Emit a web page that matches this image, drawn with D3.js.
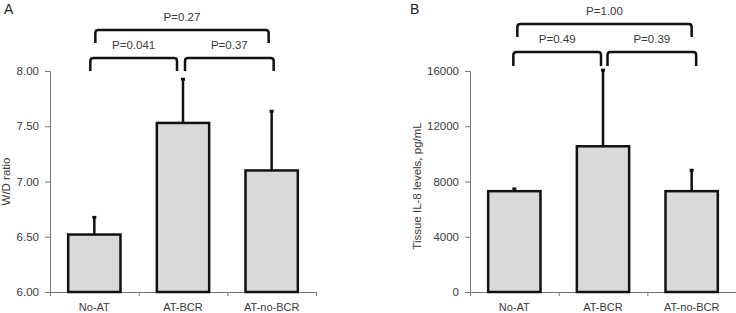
<!DOCTYPE html>
<html>
<head>
<meta charset="utf-8">
<script src="https://cdn.jsdelivr.net/npm/d3@7"></script>
<style>
  body { margin: 0; background: #fff; }
  svg { display: block; font-family: "Liberation Sans", Arial, Helvetica, sans-serif; }
</style>
</head>
<body>
<script>
const WIDTH = 736;
const HEIGHT = 313;

// data
var categories = ['No-AT', 'AT-BCR', 'AT-no-BCR'];
var wdMeans = [6.52, 7.53, 7.10];
var wdSd = [0.16, 0.40, 0.54];
var wdTicks = [6.00, 6.50, 7.00, 7.50, 8.00];
var il8Means = [7300, 10550, 7300];
var il8Sd = [200, 5550, 1550];
var il8Ticks = [0, 4000, 8000, 12000, 16000];
var pairs = [[0, 1], [1, 2], [0, 2]];
var wdPvalues = ['P=0.041', 'P=0.37', 'P=0.27'];
var il8Pvalues = ['P=0.49', 'P=0.39', 'P=1.00'];

var svg = d3.select('body').append('svg')
    .attr('width', WIDTH)
    .attr('height', HEIGHT);

var drawPanel = function (opt) {
    var g = svg.append('g');

    var yScale = d3.scaleLinear()
        .domain([opt.ticks[0], opt.ticks[opt.ticks.length - 1]])
        .range([292, 71]);
    var xBand = d3.scaleBand()
        .domain(categories)
        .range([opt.left, opt.left + 266])
        .paddingInner(0.41)
        .paddingOuter(0.205);
    var xEdge = d3.scaleLinear()
        .domain([0, categories.length])
        .range([opt.left, opt.left + 266]);

    // y axis
    var yAxis = g.append('g')
        .attr('transform', 'translate(' + opt.left + ',0)')
        .call(d3.axisLeft(yScale).tickValues(opt.ticks).tickFormat(opt.format).tickSize(5).tickPadding(6));
    yAxis.select('.domain').attr('stroke', '#777');
    yAxis.selectAll('.tick line').attr('stroke', '#777');
    yAxis.selectAll('.tick text')
        .attr('fill', '#3a3a3a')
        .style('font-size', '11.5px')
        .style('font-family', '"Liberation Sans", Arial, sans-serif');

    // x axis: ticks at band edges, labels at centers
    var xAxis = g.append('g')
        .attr('transform', 'translate(0,292)')
        .call(d3.axisBottom(xEdge).tickValues(d3.range(categories.length + 1)).tickFormat('').tickSize(4).tickSizeOuter(0));
    xAxis.select('.domain').attr('stroke', '#777');
    xAxis.selectAll('.tick line').attr('stroke', '#777');

    g.append('g')
        .attr('transform', 'translate(0,292)')
        .call(d3.axisBottom(xBand).tickSize(0).tickPadding(11))
        .call(function (s) { s.select('.domain').remove(); })
        .selectAll('text')
        .attr('fill', '#3a3a3a')
        .style('font-size', '11px')
        .style('font-family', '"Liberation Sans", Arial, sans-serif');

    // error bars (upper only)
    var errs = g.append('g');
    opt.means.forEach(function (m, i) {
        var cx = xBand(categories[i]) + xBand.bandwidth() / 2;
        errs.append('line')
            .attr('x1', cx).attr('x2', cx)
            .attr('y1', yScale(m)).attr('y2', yScale(m + opt.sd[i]))
            .attr('stroke', '#111').attr('stroke-width', 2.5);
        errs.append('line')
            .attr('x1', cx - 2).attr('x2', cx + 2)
            .attr('y1', yScale(m + opt.sd[i]) + 0.5).attr('y2', yScale(m + opt.sd[i]) + 0.5)
            .attr('stroke', '#111').attr('stroke-width', 3);
    });

    // bars
    g.selectAll('rect.bar')
        .data(opt.means)
        .enter()
        .append('rect')
        .attr('class', 'bar')
        .attr('x', function (d, i) { return xBand(categories[i]); })
        .attr('width', xBand.bandwidth())
        .attr('y', function (d) { return yScale(d); })
        .attr('height', function (d) { return yScale(opt.ticks[0]) - yScale(d); })
        .attr('fill', '#d9d9d9')
        .attr('stroke', '#111')
        .attr('stroke-width', 2.5);

    // significance brackets
    var center = function (i) { return xBand(categories[i]) + xBand.bandwidth() / 2; };
    pairs.forEach(function (p, k) {
        var b = opt.brackets[k];
        var x1 = center(p[0]) + b.dx1;
        var x2 = center(p[1]) + b.dx2;
        var yt = b.top;
        var yb = b.top + b.leg;
        var r = 3;
        g.append('path')
            .attr('d', 'M' + x1 + ',' + yb + 'L' + x1 + ',' + (yt + r) +
                'Q' + x1 + ',' + yt + ' ' + (x1 + r) + ',' + yt +
                'L' + (x2 - r) + ',' + yt +
                'Q' + x2 + ',' + yt + ' ' + x2 + ',' + (yt + r) +
                'L' + x2 + ',' + yb)
            .attr('fill', 'none')
            .attr('stroke', '#111')
            .attr('stroke-width', 2.5);
        g.append('text')
            .attr('x', (x1 + x2) / 2)
            .attr('y', yt - 9)
            .attr('text-anchor', 'middle')
            .attr('fill', '#3a3a3a')
            .style('font-size', '11.5px')
            .text(opt.pvalues[k]);
    });

    // y label
    g.append('text')
        .attr('transform', 'translate(' + opt.labelX + ',' + opt.labelY + ') rotate(-90)')
        .attr('text-anchor', 'middle')
        .attr('fill', '#3a3a3a')
        .style('font-size', '11.5px')
        .text(opt.ylabel);

    // panel letter
    g.append('text')
        .attr('x', opt.letterX)
        .attr('y', 14)
        .attr('fill', '#222')
        .style('font-size', '14px')
        .text(opt.letter);
};

drawPanel({
    letter: 'A', letterX: 4, left: 50,
    means: wdMeans, sd: wdSd, ticks: wdTicks,
    format: d3.format('.2f'),
    pvalues: wdPvalues,
    ylabel: 'W/D ratio', labelX: 9.5, labelY: 181.5,
    brackets: [
        { dx1: -4, dx2: -6, top: 58, leg: 13 },
        { dx1: 2, dx2: 2, top: 58, leg: 13 },
        { dx1: 1, dx2: -3, top: 30, leg: 13 }
    ]
});

drawPanel({
    letter: 'B', letterX: 410, left: 470,
    means: il8Means, sd: il8Sd, ticks: il8Ticks,
    format: d3.format('d'),
    pvalues: il8Pvalues,
    ylabel: 'Tissue IL-8 levels, pg/mL', labelX: 421, labelY: 186,
    brackets: [
        { dx1: -1, dx2: -2, top: 52, leg: 14 },
        { dx1: 4.5, dx2: 4.5, top: 52, leg: 14 },
        { dx1: 3, dx2: 0, top: 24, leg: 13 }
    ]
});
</script>
</body>
</html>
